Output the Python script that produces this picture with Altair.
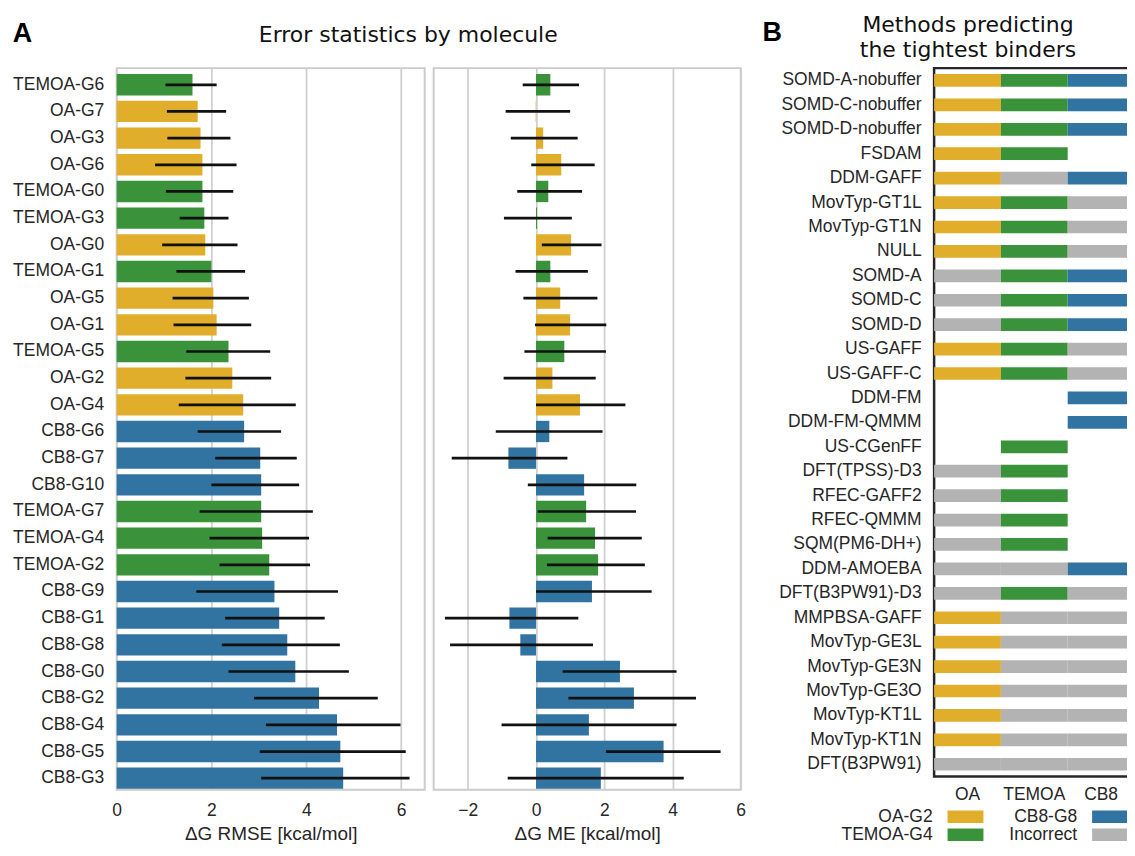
import altair as alt
import pandas as pd

# ---------------- data ----------------
molecules = ["TEMOA-G6", "OA-G7", "OA-G3", "OA-G6", "TEMOA-G0", "TEMOA-G3", "OA-G0",
             "TEMOA-G1", "OA-G5", "OA-G1", "TEMOA-G5", "OA-G2", "OA-G4", "CB8-G6",
             "CB8-G7", "CB8-G10", "TEMOA-G7", "TEMOA-G4", "TEMOA-G2", "CB8-G9", "CB8-G1",
             "CB8-G8", "CB8-G0", "CB8-G2", "CB8-G4", "CB8-G5", "CB8-G3"]
rmse = [1.60, 1.71, 1.77, 1.81, 1.81, 1.85, 1.87, 2.00, 2.04, 2.11, 2.36, 2.44, 2.67, 2.69,
        3.03, 3.05, 3.05, 3.07, 3.22, 3.33, 3.43, 3.60, 3.77, 4.27, 4.65, 4.72, 4.78]
rmse_lo = [1.03, 1.06, 1.07, 0.81, 1.04, 1.33, 0.96, 1.26, 1.18, 1.20, 1.47, 1.45, 1.31, 1.71,
           2.08, 2.00, 1.75, 1.96, 2.17, 1.68, 2.29, 2.22, 2.36, 2.90, 3.15, 3.02, 3.05]
rmse_hi = [2.11, 2.31, 2.40, 2.53, 2.46, 2.36, 2.55, 2.71, 2.79, 2.84, 3.24, 3.26, 3.78, 3.47,
           3.80, 3.85, 4.14, 4.06, 4.08, 4.67, 4.39, 4.71, 4.90, 5.51, 5.99, 6.10, 6.18]
me = [0.42, -0.01, 0.21, 0.74, 0.36, 0.03, 1.03, 0.42, 0.71, 1.00, 0.83, 0.48, 1.29, 0.39,
      -0.81, 1.41, 1.47, 1.73, 1.82, 1.64, -0.78, -0.46, 2.46, 2.87, 1.55, 3.74, 1.90]
me_lo = [-0.39, -0.89, -0.74, -0.14, -0.55, -0.94, 0.17, -0.60, -0.37, -0.03, -0.34, -0.95, 0.00,
         -1.18, -2.47, -0.24, 0.05, 0.34, 0.32, 0.00, -2.67, -2.52, 0.78, 0.95, -1.01, 2.05, -0.83]
me_hi = [1.26, 1.00, 1.22, 1.72, 1.35, 1.05, 1.92, 1.52, 1.80, 2.06, 2.05, 1.75, 2.62, 1.95,
         0.92, 2.94, 2.93, 3.10, 3.19, 3.39, 1.24, 1.67, 4.12, 4.69, 4.12, 5.41, 4.33]

methods = ["SOMD-A-nobuffer", "SOMD-C-nobuffer", "SOMD-D-nobuffer", "FSDAM", "DDM-GAFF",
           "MovTyp-GT1L", "MovTyp-GT1N", "NULL", "SOMD-A", "SOMD-C", "SOMD-D", "US-GAFF",
           "US-GAFF-C", "DDM-FM", "DDM-FM-QMMM", "US-CGenFF", "DFT(TPSS)-D3", "RFEC-GAFF2",
           "RFEC-QMMM", "SQM(PM6-DH+)", "DDM-AMOEBA", "DFT(B3PW91)-D3", "MMPBSA-GAFF",
           "MovTyp-GE3L", "MovTyp-GE3N", "MovTyp-GE3O", "MovTyp-KT1L", "MovTyp-KT1N",
           "DFT(B3PW91)"]
hosts = ["OA", "TEMOA", "CB8"]
tightest = {"OA": "OA-G2", "TEMOA": "TEMOA-G4", "CB8": "CB8-G8"}
# C = correct tightest binder, N = incorrect, "" = no prediction
oa_result = ["C", "C", "C", "C", "C", "C", "C", "C", "N", "N", "N", "C", "C", "", "", "",
             "N", "N", "N", "N", "N", "N", "C", "C", "C", "C", "C", "C", "N"]
temoa_result = ["C", "C", "C", "C", "N", "C", "C", "C", "C", "C", "C", "C", "C", "", "", "C",
                "C", "C", "C", "C", "N", "C", "N", "N", "N", "N", "N", "N", "N"]
cb8_result = ["C", "C", "C", "", "C", "N", "N", "N", "C", "C", "C", "N", "N", "C", "C", "",
              "", "", "", "", "C", "N", "N", "N", "N", "N", "N", "N", "N"]
legend_labels = ["OA-G2", "CB8-G8", "TEMOA-G4", "Incorrect"]

# ---------------- styles ----------------
YELLOW, GREEN, BLUE, GRAY = "#e1ae2b", "#3a923a", "#3274a1", "#b3b3b3"
TXT = "#262626"
LAB = "Liberation Sans"
TIT = "DejaVu Sans"
FS = 17.5

df_mol = pd.DataFrame({
    "molecule": molecules,
    "host": [m.split("-")[0] for m in molecules],
    "rmse": rmse, "rmse_lo": rmse_lo, "rmse_hi": rmse_hi,
    "me": me, "me_lo": me_lo, "me_hi": me_hi,
})

rows = []
for col, res in zip(hosts, [oa_result, temoa_result, cb8_result]):
    for m, r in zip(methods, res):
        if r == "C":
            rows.append({"method": m, "col": col, "result": tightest[col]})
        elif r == "N":
            rows.append({"method": m, "col": col, "result": "Incorrect"})
df_cells = pd.DataFrame(rows)

df_leg = pd.DataFrame({
    "label": legend_labels,
    "lx": [i % 2 for i in range(len(legend_labels))],
    "ly": [i // 2 for i in range(len(legend_labels))],
})

host_scale = alt.Scale(domain=hosts, range=[YELLOW, GREEN, BLUE])
res_scale = alt.Scale(domain=["OA-G2", "TEMOA-G4", "CB8-G8", "Incorrect"],
                      range=[YELLOW, GREEN, BLUE, GRAY])

W1, W2, W3 = 309, 308, 201
H1, H3 = 724, 710.5

ymol_scale = alt.Scale(domain=molecules, paddingInner=0.2, paddingOuter=0.131, align=0.857)


def xaxis(values, title):
    return alt.Axis(values=values, grid=True, gridColor="#d0d0d0", gridWidth=1.8,
                    ticks=False, tickSize=0, domain=False, labelFont=LAB, labelFontSize=FS,
                    labelColor=TXT, labelPadding=26, labelBaseline="alphabetic",
                    labelFlush=False, labelOverlap=False, title=title, titleFont=LAB,
                    titleFontSize=19, titleFontWeight="normal", titleColor=TXT,
                    titleY=50, titleBaseline="alphabetic")


ymol_axis = alt.Axis(ticks=False, tickSize=0, domain=False, grid=False, labelFont=LAB,
                     labelFontSize=FS, labelColor=TXT, labelPadding=13)


def text_layer(text, x, y, size, font, weight="normal", align="left", color="#000000"):
    return alt.Chart(pd.DataFrame({"t": [text]})).mark_text(
        align=align, baseline="alphabetic", font=font, fontSize=size,
        fontWeight=weight, color=color
    ).encode(x=alt.value(x), y=alt.value(y), text="t:N")


def anchor(x, y):
    # invisible layout helper fixing the outer bounds of the drawing
    return alt.Chart(pd.DataFrame({"a": [0]})).mark_rule(opacity=0).encode(
        x=alt.value(x), x2=alt.value(x + 1), y=alt.value(y))


# ---------------- panel A: RMSE ----------------
rmse_title = "ΔG RMSE [kcal/mol]"
bars1 = alt.Chart(df_mol).mark_bar().encode(
    x=alt.X("rmse:Q", scale=alt.Scale(domain=[0, 6.5], nice=False),
            axis=xaxis([0, 2, 4, 6], rmse_title)),
    y=alt.Y("molecule:N", scale=ymol_scale, axis=ymol_axis, title=None),
    color=alt.Color("host:N", scale=host_scale, legend=None),
)
err1 = alt.Chart(df_mol).mark_rule(color="#111111", strokeWidth=2.7).encode(
    x=alt.X("rmse_lo:Q", title=rmse_title),
    x2="rmse_hi:Q",
    y=alt.Y("molecule:N", title=None),
)
p1 = alt.layer(
    bars1, err1,
    text_layer("A", -104.3, -26.7, 27, LAB, weight="bold"),
    text_layer("Error statistics by molecule", 292.5, -26, 22, TIT, align="center", color="#111111"),
    anchor(-108, -58),
).properties(width=W1, height=H1)

# ---------------- panel A: ME ----------------
me_title = "ΔG ME [kcal/mol]"
bars2 = alt.Chart(df_mol).mark_bar().encode(
    x=alt.X("me:Q", scale=alt.Scale(domain=[-3, 6], nice=False),
            axis=xaxis([-2, 0, 2, 4, 6], me_title)),
    y=alt.Y("molecule:N", scale=ymol_scale, axis=None),
    color=alt.Color("host:N", scale=host_scale, legend=None),
)
err2 = alt.Chart(df_mol).mark_rule(color="#111111", strokeWidth=2.7).encode(
    x=alt.X("me_lo:Q", title=me_title),
    x2="me_hi:Q",
    y=alt.Y("molecule:N", axis=None),
)
p2 = alt.layer(bars2, err2).properties(width=W2, height=H1)

# ---------------- spacer ----------------
spacer = alt.Chart(pd.DataFrame({"s": [0]})).mark_point(opacity=0).encode(
    x=alt.X("s:Q", axis=None), y=alt.Y("s:Q", axis=None)
).properties(width=175.5, height=20, view=alt.ViewBackground(strokeOpacity=0))

# ---------------- panel B ----------------
cells = alt.Chart(df_cells).mark_rect().encode(
    x=alt.X("col:N", scale=alt.Scale(domain=hosts, paddingInner=0, paddingOuter=0),
            axis=alt.Axis(ticks=False, tickSize=0, domain=False, grid=False, labelAngle=0,
                          labelFont=LAB, labelFontSize=FS, labelColor=TXT, labelPadding=23.5,
                          labelBaseline="alphabetic", title=None)),
    y=alt.Y("method:N", scale=alt.Scale(domain=methods, paddingInner=0.48,
                                        paddingOuter=0.241, align=0.508),
            axis=ymol_axis, title=None),
    color=alt.Color("result:N", scale=res_scale, legend=None),
)
leg_x = alt.Scale(domain=[0, 1], range=[31.5, 176.5])
leg_y = alt.Scale(domain=[0, 1], range=[751, 769])
leg_pts = alt.Chart(df_leg).mark_point(
    shape="M-1,-0.353L1,-0.353L1,0.353L-1,0.353Z", size=1296, filled=True, opacity=1,
    strokeWidth=0
).encode(
    x=alt.X("lx:Q", scale=leg_x, axis=None),
    y=alt.Y("ly:Q", scale=leg_y, axis=None),
    color=alt.Color("label:N", scale=res_scale, legend=None),
)
leg_txt = alt.Chart(df_leg).mark_text(
    align="right", baseline="middle", dx=-33, font=LAB, fontSize=FS, color=TXT
).encode(
    x=alt.X("lx:Q", scale=leg_x, axis=None),
    y=alt.Y("ly:Q", scale=leg_y, axis=None),
    text="label:N",
)
p3 = alt.layer(
    cells, leg_pts, leg_txt,
    text_layer("B", -172.2, -27.7, 27, LAB, weight="bold"),
    text_layer("Methods predicting", 34, -36.3, 22, TIT, align="center", color="#111111"),
    text_layer("the tightest binders", 34, -10.7, 22, TIT, align="center", color="#111111"),
    anchor(214, 790),
).resolve_scale(x="independent", y="independent").properties(
    width=W3, height=H3, view=alt.ViewBackground(stroke="#262626", strokeWidth=2.5)
)

chart = alt.hconcat(p1, p2, spacer, p3, spacing=9, bounds="flush").resolve_scale(
    color="independent"
).properties(
    padding={"left": 0, "top": 0, "right": -23.5, "bottom": -12}
).configure_view(stroke="#cccccc", strokeWidth=2)

chart.save("out.html", embed_options={"renderer": "svg", "actions": False})
